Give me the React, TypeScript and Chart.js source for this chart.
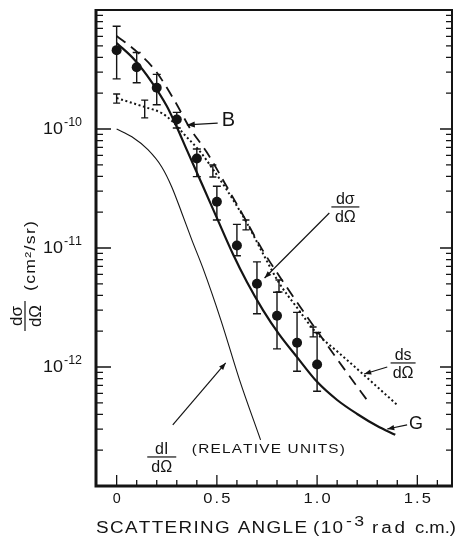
import React, { useEffect, useRef } from 'react';
import { Chart, registerables } from 'chart.js';

Chart.register(...registerables);

const FONT = '"Liberation Sans", "DejaVu Sans", Arial, sans-serif';
const INK = '#141414';

// ---- axis ticks ----
const xTickValues = [0, 0.5, 1.0, 1.5];
const xTickLabels = ['0', '0.5', '1.0', '1.5'];
const xMinorTickValues = [0, 0.1, 0.2, 0.3, 0.4, 0.5, 0.6, 0.7, 0.8, 0.9, 1.0, 1.1, 1.2, 1.3, 1.4, 1.5, 1.6];
const yDecadeExponents = [-13, -12, -11, -10, -9];
const yLabelExponents = [-10, -11, -12];
const yMinorMultipliers = [2, 3, 4, 5, 6, 7, 8, 9];

// ---- measured cross-section (filled circles with error bars) ----
const pointAngles = [0, 0.1, 0.2, 0.3, 0.4, 0.5, 0.6, 0.7, 0.8, 0.9, 1.0];
const pointValues = [4.6e-10, 3.3e-10, 2.22e-10, 1.2e-10, 5.65e-11, 2.45e-11, 1.05e-11, 5.0e-12, 2.7e-12, 1.6e-12, 1.05e-12];
const pointUpper = [7.3e-10, 4.4e-10, 2.88e-10, 1.38e-10, 6.8e-11, 3.3e-11, 1.58e-11, 7.65e-12, 4.25e-12, 2.88e-12, 1.95e-12];
const pointLower = [2.64e-10, 2.45e-10, 1.6e-10, 1.02e-10, 3.98e-11, 1.72e-11, 8.6e-12, 2.8e-12, 1.42e-12, 9.2e-13, 6.25e-13];

// ---- small error bars on ds/dΩ ----
const dsErrAngles = [0, 0.14, 0.48, 0.645, 0.81, 0.98];
const dsErrUpper = [1.97e-10, 1.75e-10, 4.98e-11, 1.72e-11, 5.38e-12, 2.17e-12];
const dsErrLower = [1.65e-10, 1.24e-10, 3.95e-11, 1.42e-11, 4.27e-12, 1.79e-12];

// ---- curve G : dσ/dΩ (thick solid) ----
const curveGAngles = [0, 0.09, 0.175, 0.25, 0.3, 0.35, 0.43, 0.5, 0.58, 0.65, 0.73, 0.81, 0.9, 1.0, 1.1, 1.2, 1.3, 1.39];
const curveGValues = [5.28e-10, 3.8e-10, 2.48e-10, 1.56e-10, 1.04e-10, 6.67e-11, 3.32e-11, 1.79e-11, 8.9e-12, 5.18e-12, 3.01e-12, 1.89e-12, 1.21e-12, 7.5e-13, 5.28e-13, 4.03e-13, 3.19e-13, 2.69e-13];

// ---- curve B (dashed) ----
const curveBAngles = [0, 0.091, 0.191, 0.29, 0.365, 0.449, 0.539, 0.638, 0.728, 0.838, 0.947, 1.036, 1.136, 1.26];
const curveBValues = [6.05e-10, 4.61e-10, 3.13e-10, 1.72e-10, 1.02e-10, 6.41e-11, 3.52e-11, 1.79e-11, 9.6e-12, 4.98e-12, 2.69e-12, 1.65e-12, 9.6e-13, 4.98e-13];

// ---- ds/dΩ (dotted) ----
const curveSAngles = [0, 0.14, 0.225, 0.28, 0.34, 0.415, 0.48, 0.55, 0.65, 0.728, 0.81, 0.897, 0.997, 1.11, 1.245, 1.4];
const curveSValues = [1.82e-10, 1.53e-10, 1.36e-10, 1.15e-10, 8.9e-11, 6.5e-11, 4.6e-11, 3.07e-11, 1.62e-11, 9.1e-12, 5.1e-12, 3.2e-12, 1.93e-12, 1.31e-12, 8.24e-13, 4.8e-13];

// ---- dI/dΩ relative units (thin solid) ----
const curveIAngles = [0, 0.076, 0.156, 0.225, 0.275, 0.325, 0.375, 0.43, 0.52, 0.613, 0.718];
const curveIValues = [1.0e-10, 8.6e-11, 6.7e-11, 4.8e-11, 3.26e-11, 1.97e-11, 1.17e-11, 6.8e-12, 2.48e-12, 7.8e-13, 2.44e-13];

const toXY = (xs: number[], ys: number[]) => xs.map((x, i) => ({ x, y: ys[i] }));

function arrow(ctx: CanvasRenderingContext2D, x1: number, y1: number, x2: number, y2: number, head = 7, lw = 1.2) {
  ctx.save();
  ctx.strokeStyle = INK;
  ctx.fillStyle = INK;
  ctx.lineWidth = lw;
  ctx.beginPath();
  ctx.moveTo(x1, y1);
  ctx.lineTo(x2, y2);
  ctx.stroke();
  const a = Math.atan2(y2 - y1, x2 - x1);
  const c = Math.cos(a), s = Math.sin(a), w = head * 0.38;
  ctx.beginPath();
  ctx.moveTo(x2, y2);
  ctx.lineTo(x2 - head * c + w * s, y2 - head * s - w * c);
  ctx.lineTo(x2 - head * c - w * s, y2 - head * s + w * c);
  ctx.closePath();
  ctx.fill();
  ctx.restore();
}

// Draw text fitted into a given width: mild horizontal stretch plus letter spacing.
function fitText(ctx: CanvasRenderingContext2D, text: string, x: number, y: number, width: number, align: 'left' | 'center' | 'right' = 'left') {
  const chars = Array.from(text);
  const widths = chars.map((ch) => ctx.measureText(ch).width);
  const natural = widths.reduce((a, b) => a + b, 0);
  const sx = Math.max(0.85, Math.min(1.18, width / natural));
  const gap = chars.length > 1 ? (width - natural * sx) / (chars.length - 1) : 0;
  let start = x;
  if (align === 'center') start = x - width / 2;
  if (align === 'right') start = x - width;
  ctx.save();
  ctx.textAlign = 'left';
  let cx = start;
  chars.forEach((ch, i) => {
    ctx.save();
    ctx.translate(cx, y);
    ctx.scale(sx, 1);
    ctx.fillText(ch, 0, 0);
    ctx.restore();
    cx += widths[i] * sx + gap;
  });
  ctx.restore();
}

function fraction(ctx: CanvasRenderingContext2D, num: string, den: string, cx: number, barY: number, barW: number, size: number) {
  ctx.save();
  ctx.fillStyle = INK;
  ctx.font = `${size}px ${FONT}`;
  ctx.textAlign = 'center';
  ctx.textBaseline = 'alphabetic';
  ctx.fillText(num, cx, barY - 3);
  ctx.fillText(den, cx, barY + size * 0.95);
  ctx.fillRect(cx - barW / 2, barY - 0.6, barW, 1.2);
  ctx.restore();
}

const decorPlugin = {
  id: 'sciDecor',
  beforeDatasetsDraw(chart: any) {
    const ctx: CanvasRenderingContext2D = chart.ctx;
    const xs = chart.scales.x, ys = chart.scales.y;
    ctx.save();
    ctx.strokeStyle = INK;
    ctx.lineWidth = 1.4;
    const bar = (xv: number, lo: number, hi: number, cap: number) => {
      const x = xs.getPixelForValue(xv);
      const yl = ys.getPixelForValue(lo), yh = ys.getPixelForValue(hi);
      ctx.beginPath();
      ctx.moveTo(x, yl); ctx.lineTo(x, yh);
      ctx.moveTo(x - cap, yl); ctx.lineTo(x + cap, yl);
      ctx.moveTo(x - cap, yh); ctx.lineTo(x + cap, yh);
      ctx.stroke();
    };
    pointAngles.forEach((a, i) => bar(a, pointLower[i], pointUpper[i], 4));
    dsErrAngles.forEach((a, i) => bar(a, dsErrLower[i], dsErrUpper[i], 3.5));
    ctx.restore();
  },
  afterDraw(chart: any) {
    const ctx: CanvasRenderingContext2D = chart.ctx;
    const xs = chart.scales.x, ys = chart.scales.y;
    const { left, right, top, bottom } = chart.chartArea;
    const P = (xv: number, ly: number): [number, number] => [xs.getPixelForValue(xv), ys.getPixelForValue(Math.pow(10, ly))];
    ctx.save();
    ctx.strokeStyle = INK;
    ctx.fillStyle = INK;

    // frame
    ctx.lineWidth = 3;
    ctx.beginPath();
    ctx.moveTo(left, top - 1); ctx.lineTo(left, bottom + 1.5);
    ctx.moveTo(left - 1.5, bottom); ctx.lineTo(right + 1, bottom);
    ctx.stroke();
    ctx.lineWidth = 2;
    ctx.beginPath();
    ctx.moveTo(left, top); ctx.lineTo(right, top);
    ctx.moveTo(right, top - 1); ctx.lineTo(right, bottom);
    ctx.stroke();

    // y ticks (inward, both sides)
    ctx.lineWidth = 1.3;
    yDecadeExponents.forEach((e) => {
      const yMaj = ys.getPixelForValue(Math.pow(10, e));
      ctx.beginPath();
      ctx.moveTo(left, yMaj); ctx.lineTo(left + 15, yMaj);
      ctx.moveTo(right, yMaj); ctx.lineTo(right - 12, yMaj);
      ctx.stroke();
      if (e < -9) {
        yMinorMultipliers.forEach((m) => {
          const y = ys.getPixelForValue(m * Math.pow(10, e));
          ctx.beginPath();
          ctx.moveTo(left, y); ctx.lineTo(left + 7, y);
          ctx.moveTo(right, y); ctx.lineTo(right - 6, y);
          ctx.stroke();
        });
      }
    });
    // x ticks (inward)
    xMinorTickValues.forEach((v) => {
      const x = xs.getPixelForValue(v);
      const major = xTickValues.some((t) => Math.abs(t - v) < 1e-9);
      ctx.beginPath();
      ctx.moveTo(x, bottom); ctx.lineTo(x, bottom - (major ? 11 : 6));
      ctx.stroke();
    });

    // x tick labels
    ctx.textBaseline = 'alphabetic';
    ctx.font = `14px ${FONT}`;
    xTickValues.forEach((v, i) => {
      const x = xs.getPixelForValue(v);
      const label = xTickLabels[i];
      const w = label.length === 1 ? 8 : 27;
      fitText(ctx, label, x, 503, w, 'center');
    });

    // y tick labels 10^e
    yLabelExponents.forEach((e) => {
      const y = ys.getPixelForValue(Math.pow(10, e));
      ctx.font = `12px ${FONT}`;
      fitText(ctx, String(e), 82, y - 3, 18, 'right');
      ctx.font = `17px ${FONT}`;
      fitText(ctx, '10', 63, y + 5, 20, 'right');
    });

    // x axis title
    ctx.font = `16px ${FONT}`;
    fitText(ctx, 'SCATTERING ANGLE', 96, 533, 211);
    fitText(ctx, '(10', 313, 533, 30);
    ctx.font = `15px ${FONT}`;
    fitText(ctx, '-3', 346, 526, 18);
    ctx.font = `16px ${FONT}`;
    fitText(ctx, 'rad', 372, 533, 33);
    fitText(ctx, 'c.m.)', 415, 533, 41);

    // y axis title (rotated)
    ctx.save();
    ctx.translate(25, 316);
    ctx.rotate(-Math.PI / 2);
    fraction(ctx, 'dσ', 'dΩ', 0, 0, 30, 17);
    ctx.restore();
    ctx.save();
    ctx.translate(31, 256);
    ctx.rotate(-Math.PI / 2);
    ctx.font = `15px ${FONT}`;
    ctx.textBaseline = 'middle';
    fitText(ctx, '(cm²/sr)', 0, 0, 70, 'center');
    ctx.restore();

    // annotation B
    {
      const [bx, by] = P(0.524, -9.924);
      ctx.font = `20px ${FONT}`;
      ctx.textAlign = 'left';
      ctx.textBaseline = 'middle';
      ctx.fillText('B', bx, by + 1);
      const [a1x, a1y] = P(0.504, -9.95);
      const [a2x, a2y] = P(0.35, -9.966);
      arrow(ctx, a1x, a1y, a2x, a2y, 8, 1.3);
    }
    // dσ/dΩ label
    {
      const [fx, fy] = P(1.141, -10.655);
      fraction(ctx, 'dσ', 'dΩ', fx, fy, 28, 16);
      const [l1x, l1y] = P(1.061, -10.706);
      const [l2x, l2y] = P(0.738, -11.252);
      arrow(ctx, l1x, l1y, l2x, l2y, 7, 1.2);
    }
    // ds/dΩ label
    {
      const [fx, fy] = P(1.429, -11.966);
      fraction(ctx, 'ds', 'dΩ', fx, fy, 25, 16);
      const [l1x, l1y] = P(1.35, -12.0);
      const [l2x, l2y] = P(1.235, -12.059);
      arrow(ctx, l1x, l1y, l2x, l2y, 7, 1.2);
    }
    // G label
    {
      const [gx, gy] = P(1.459, -12.471);
      ctx.font = `18px ${FONT}`;
      ctx.textAlign = 'left';
      ctx.textBaseline = 'middle';
      ctx.fillText('G', gx, gy + 1);
      const [a1x, a1y] = P(1.449, -12.487);
      const [a2x, a2y] = P(1.35, -12.521);
      arrow(ctx, a1x, a1y, a2x, a2y, 7, 1.2);
    }
    // dI/dΩ (RELATIVE UNITS)
    {
      const [fx, fy] = P(0.225, -12.756);
      fraction(ctx, 'dI', 'dΩ', fx, fy, 29, 16);
      const [tx, ty] = P(0.375, -12.689);
      ctx.font = `13px ${FONT}`;
      ctx.textBaseline = 'middle';
      fitText(ctx, '(RELATIVE UNITS)', tx, ty, 153);
      const [l1x, l1y] = P(0.28, -12.487);
      const [l2x, l2y] = P(0.544, -11.966);
      arrow(ctx, l1x, l1y, l2x, l2y, 7, 1.2);
    }
    ctx.restore();
  },
};

export default function App() {
  const ref = useRef<HTMLCanvasElement | null>(null);
  useEffect(() => {
    if (!ref.current) return;
    const line = (xs: number[], ys: number[], width: number, dash: number[]) => ({
      data: toXY(xs, ys),
      showLine: true,
      borderColor: INK,
      borderWidth: width,
      borderDash: dash,
      pointRadius: 0,
      fill: false,
      cubicInterpolationMode: 'monotone' as const,
    });
    const chart = new Chart(ref.current, {
      type: 'scatter',
      data: {
        datasets: [
          {
            data: toXY(pointAngles, pointValues),
            showLine: false,
            pointRadius: 5,
            pointBackgroundColor: INK,
            pointBorderColor: INK,
            pointBorderWidth: 0,
          },
          line(curveGAngles, curveGValues, 2.2, []),
          line(curveBAngles, curveBValues, 1.8, [11, 7]),
          line(curveSAngles, curveSValues, 2, [2, 2.6]),
          line(curveIAngles, curveIValues, 1.1, []),
        ],
      },
      options: {
        animation: false,
        responsive: false,
        devicePixelRatio: 1,
        layout: { padding: { left: 0, right: 4, top: 10, bottom: 0 } },
        plugins: { legend: { display: false }, tooltip: { enabled: false } },
        scales: {
          x: {
            type: 'linear',
            min: -0.103,
            max: 1.673,
            grid: { display: false, drawTicks: false },
            border: { display: false },
            ticks: { display: false },
            afterFit: (scale: any) => {
              scale.height = 52;
            },
          },
          y: {
            type: 'logarithmic',
            min: 1e-13,
            max: 1e-9,
            grid: { display: false, drawTicks: false },
            border: { display: false },
            ticks: { display: false },
            afterFit: (scale: any) => {
              scale.width = 96;
            },
          },
        },
      },
      plugins: [decorPlugin],
    });
    return () => chart.destroy();
  }, []);
  return (
    <div style={{ position: 'fixed', left: 0, top: 0, width: 457, height: 538, background: '#fff' }}>
      <canvas ref={ref} width={457} height={538} style={{ width: 457, height: 538, display: 'block' }} />
    </div>
  );
}
